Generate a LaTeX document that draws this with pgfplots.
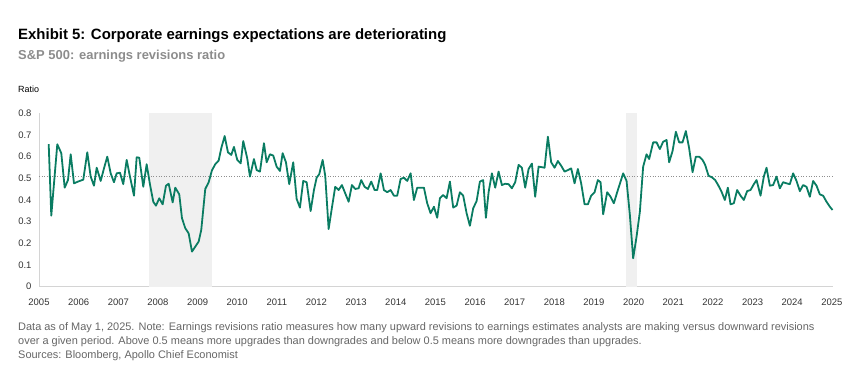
\documentclass[border=0pt]{standalone}
\usepackage{fontspec}
\setmainfont{Liberation Sans}
\usepackage{pgfplots}
\pgfplotsset{compat=1.18}
\usepackage{pgfplotstable}
\definecolor{linegreen}{HTML}{0A7C62}
\definecolor{shade}{HTML}{F0F0F0}
\definecolor{subgrey}{HTML}{8C8C8C}
\definecolor{notegrey}{HTML}{666666}
\definecolor{tickgrey}{HTML}{333333}
\definecolor{axisgrey}{HTML}{D4D4D4}
\definecolor{dotgrey}{HTML}{8F8F8F}

% px = horizontal position, v = ratio
\pgfplotstableread{
px v
48.7 0.658
51.3 0.328
57.3 0.657
61.3 0.616
64.7 0.457
68 0.492
70.7 0.611
74 0.477
78 0.485
83.3 0.494
87.3 0.620
90.7 0.508
94 0.466
96.7 0.549
100.7 0.488
104 0.546
107.3 0.600
110.7 0.523
114 0.482
116.7 0.523
120 0.526
123.3 0.473
126.7 0.585
130 0.508
134 0.420
136.7 0.597
139.3 0.595
143.3 0.461
146.7 0.565
150 0.472
153.3 0.392
156 0.374
159.3 0.408
162.7 0.380
166 0.466
168.7 0.475
172.7 0.389
175.3 0.457
179.3 0.426
182 0.316
185.3 0.270
188.7 0.246
192 0.162
195.3 0.185
198.7 0.208
201.3 0.262
205.3 0.451
208.7 0.482
212 0.537
215.3 0.565
218.7 0.582
221.3 0.639
224.7 0.695
228 0.620
231.3 0.608
234 0.645
237.3 0.585
240.7 0.569
243.3 0.672
247.3 0.592
250 0.508
254 0.589
256.7 0.538
260 0.531
264 0.662
266.7 0.574
270 0.611
273.3 0.605
276.7 0.554
280 0.534
282.7 0.616
286 0.574
289.3 0.473
293.3 0.574
296.7 0.405
300 0.365
303.3 0.488
306.7 0.482
310.7 0.349
314 0.446
316.7 0.503
319.3 0.519
322.7 0.585
325.3 0.512
328.7 0.266
332 0.365
335.3 0.461
338.7 0.446
342 0.469
345.3 0.431
348.7 0.392
352 0.469
355.3 0.451
358.7 0.454
361.3 0.492
364.7 0.461
368 0.451
371.3 0.485
374.7 0.446
377.3 0.446
380.7 0.523
384 0.446
387.3 0.436
390.7 0.446
394 0.420
397.3 0.420
400.7 0.497
404 0.503
407.3 0.488
410.7 0.523
414 0.400
417.3 0.457
420.7 0.457
424 0.457
427.3 0.385
430.7 0.339
434 0.369
437.3 0.318
440 0.408
443.3 0.423
446.7 0.408
450 0.485
453.3 0.365
456.7 0.374
460 0.436
463.3 0.420
466.7 0.339
470 0.281
473.3 0.362
476.7 0.395
480 0.485
483.3 0.492
486 0.318
488.7 0.436
492 0.523
495.3 0.457
498.7 0.531
502 0.469
505.3 0.475
508.7 0.473
512 0.454
515.3 0.482
518.7 0.562
522 0.549
525.3 0.457
528.7 0.543
532 0.568
535.3 0.415
538.7 0.554
541.3 0.552
544.7 0.549
548 0.692
551.3 0.574
554.7 0.549
558 0.580
561.3 0.558
564.7 0.531
568 0.538
571.3 0.546
574.7 0.477
578 0.543
581.3 0.477
584.7 0.380
588 0.380
591.3 0.420
594.7 0.436
598 0.492
600.7 0.482
603.3 0.334
607.3 0.436
610.7 0.415
614 0.385
617.3 0.436
620.7 0.485
623.3 0.523
626.7 0.488
630 0.331
633.3 0.131
636.7 0.231
640 0.346
643.3 0.554
646.7 0.611
649.3 0.589
653.3 0.666
656.7 0.666
660 0.635
663.3 0.669
666.7 0.677
669.3 0.574
672.7 0.626
676 0.715
679.3 0.666
682.7 0.666
686 0.718
689.3 0.639
692.7 0.528
696 0.600
699.3 0.600
702.7 0.585
705.3 0.562
708.7 0.512
712 0.505
715.3 0.492
718.3 0.469
721.7 0.438
725 0.400
728 0.457
730.7 0.380
734 0.385
737.3 0.446
740.7 0.420
744 0.400
747.3 0.441
750.7 0.446
754 0.473
756.7 0.492
760.7 0.420
764 0.508
766.7 0.549
770 0.466
773.3 0.469
776.7 0.508
780 0.454
783.3 0.482
786.7 0.477
790 0.473
793.3 0.523
796.7 0.488
800 0.441
803.3 0.469
806.7 0.461
810 0.415
813.3 0.488
816.7 0.466
820 0.426
823.3 0.420
826.7 0.392
830 0.369
832.7 0.354
}\revisions

\begin{document}
\begin{tikzpicture}[x=1bp,y=1bp]
\path[use as bounding box] (0,0) rectangle (865,-370);
\node[anchor=base west, inner sep=0pt, font=\fontsize{15}{18}\selectfont\bfseries] at (18,-39.5) {Exhibit 5: Corporate earnings expectations are deteriorating};
\node[anchor=base west, inner sep=0pt, text=subgrey, font=\fontsize{13}{16}\selectfont\bfseries] at (18,-59.5) {S\&P 500: earnings revisions ratio};
\node[anchor=base west, inner sep=0pt, font=\fontsize{9}{11}\selectfont] at (18,-92.7) {Ratio};
\begin{axis}[
  at={(39bp,-286.7bp)}, anchor=south west,
  scale only axis, width=794bp, height=173.4bp,
  xmin=2005, xmax=2025.03, ymin=0, ymax=0.8,
  axis x line=bottom, axis y line=left,
  axis line style={-, draw=axisgrey, line width=0.8pt},
  major tick length=0pt,
  xtick={2005,2006,...,2025},
  xticklabel style={font=\fontsize{9.5}{11}\selectfont, text=tickgrey, /pgf/number format/1000 sep={}, yshift=-9bp},
  x tick label style={/pgf/number format/1000 sep={}},
  ytick={0,0.1,...,0.8},
  yticklabel style={font=\fontsize{9.5}{11}\selectfont, text=tickgrey, /pgf/number format/fixed, /pgf/number format/precision=1, xshift=-4bp},
  /pgf/number format/assume math mode=true,
  clip=false,
]
\addplot[fill=shade, draw=none] coordinates {(2007.77,0) (2009.37,0) (2009.37,0.8) (2007.77,0.8)} -- cycle;
\addplot[fill=shade, draw=none] coordinates {(2019.80,0) (2020.08,0) (2020.08,0.8) (2019.80,0.8)} -- cycle;
\addplot[dash pattern=on 1bp off 1.6bp, draw=dotgrey, line width=0.7bp] coordinates {(2005,0.51) (2025.03,0.51)};
\addplot[linegreen, line width=1.8bp, line join=round, mark=none]
  table[x expr={2005+(\thisrow{px}-39)/39.65}, y=v] {\revisions};
\end{axis}
\node[anchor=base west, inner sep=0pt, text=notegrey, font=\fontsize{11}{14}\selectfont] at (18,-330.5) {Data as of May 1, 2025. Note: Earnings revisions ratio measures how many upward revisions to earnings estimates analysts are making versus downward revisions};
\node[anchor=base west, inner sep=0pt, text=notegrey, font=\fontsize{11}{14}\selectfont] at (18,-344.5) {over a given period. Above 0.5 means more upgrades than downgrades and below 0.5 means more downgrades than upgrades.};
\node[anchor=base west, inner sep=0pt, text=notegrey, font=\fontsize{11}{14}\selectfont] at (18,-358.5) {Sources: Bloomberg, Apollo Chief Economist};
\end{tikzpicture}
\end{document}
